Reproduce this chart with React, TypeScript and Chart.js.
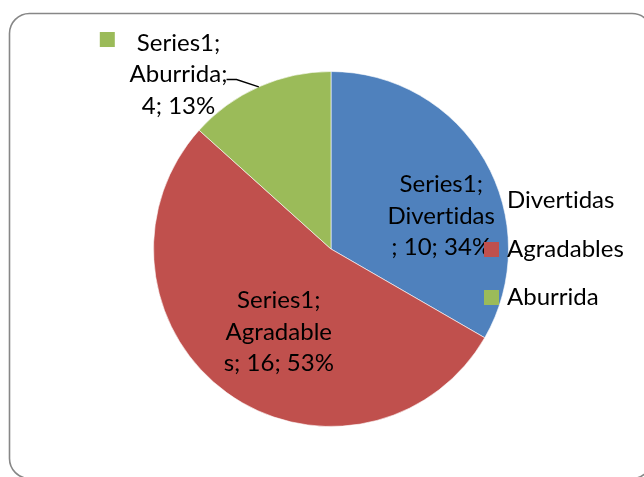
import React, { useEffect, useRef } from "react";
import { Chart, registerables } from "chart.js";

Chart.register(...registerables);

const SERIES_NAME = "Series1";
const categories = ["Divertidas", "Agradables", "Aburrida"];
const values = [10, 16, 4];
const percentLabels = ["34%", "53%", "13%"];
const colors = ["#4F81BD", "#C0504D", "#9BBB59"];

const FONT = "24px Lato, Calibri, 'Noto Sans', sans-serif";

// Wrapped data-label text, as Excel wrapped it
const labelLines: string[][] = [
  [`${SERIES_NAME};`, categories[0], `; ${values[0]}; ${percentLabels[0]}`],
  [
    `${SERIES_NAME};`,
    categories[1].slice(0, -1),
    `${categories[1].slice(-1)}; ${values[1]}; ${percentLabels[1]}`,
  ],
  [`${SERIES_NAME};`, `${categories[2]};`, `${values[2]}; ${percentLabels[2]}`],
];

// label centre offsets relative to pie centre, in units of outer radius
const labelPlacement = [
  { dx: 0.621, dy: -0.186 },
  { dx: -0.294, dy: 0.469 },
  { dx: -0.859, dy: -0.983 },
];
const LINE_H = 31.5;

function setFont(ctx: any) {
  ctx.font = FONT;
  try {
    ctx.letterSpacing = "0.01px";
  } catch (e) {}
}

const framePlugin = {
  id: "frame",
  beforeDraw(chart: any) {
    const ctx = chart.ctx;
    ctx.save();
    ctx.fillStyle = "#ffffff";
    ctx.fillRect(0, 0, chart.width, chart.height);
    const x = 9.5,
      y = 13.5,
      w = 644 - 9.5 + 8,
      h = 477 - 13.5 + 1.5,
      r = 20;
    ctx.beginPath();
    ctx.moveTo(x + r, y);
    ctx.lineTo(x + w - r, y);
    ctx.arcTo(x + w, y, x + w, y + r, r);
    ctx.lineTo(x + w, y + h - r);
    ctx.arcTo(x + w, y + h, x + w - r, y + h, r);
    ctx.lineTo(x + r, y + h);
    ctx.arcTo(x, y + h, x, y + h - r, r);
    ctx.lineTo(x, y + r);
    ctx.arcTo(x, y, x + r, y, r);
    ctx.closePath();
    ctx.strokeStyle = "#878787";
    ctx.lineWidth = 1.6;
    ctx.stroke();
    ctx.restore();
  },
};

const labelsPlugin = {
  id: "pieLabels",
  afterDatasetsDraw(chart: any) {
    const ctx = chart.ctx;
    const meta = chart.getDatasetMeta(0);
    ctx.save();
    setFont(ctx);
    ctx.fillStyle = "#000";
    ctx.textAlign = "center";
    ctx.textBaseline = "middle";
    meta.data.forEach((arc: any, i: number) => {
      const { x, y, outerRadius, startAngle, endAngle } = arc.getProps(
        ["x", "y", "outerRadius", "startAngle", "endAngle"],
        true
      );
      const p = labelPlacement[i];
      const cx = x + p.dx * outerRadius;
      const cy = y + p.dy * outerRadius;
      const lines = labelLines[i];
      const top = cy - ((lines.length - 1) * LINE_H) / 2;
      lines.forEach((ln, k) => {
        ctx.fillText(ln, cx, top + k * LINE_H);
      });
      if (i === 2) {
        // legend key for outside label
        const w0 = ctx.measureText(lines[0]).width;
        const left0 = cx - w0 / 2;
        ctx.fillStyle = colors[i];
        ctx.fillRect(left0 - 37, top - 11, 15, 15);
        ctx.fillStyle = "#000";
        // leader line
        const w1 = ctx.measureText(lines[1]).width;
        const sx = cx + w1 / 2 - 1;
        const sy = top + LINE_H + 5;
        const mid = (startAngle + endAngle) / 2;
        const ex = x + Math.cos(mid) * outerRadius;
        const ey = y + Math.sin(mid) * outerRadius;
        ctx.beginPath();
        ctx.moveTo(sx, sy);
        ctx.lineTo(sx + 10, sy);
        ctx.lineTo(ex, ey);
        ctx.strokeStyle = "#000";
        ctx.lineWidth = 1.3;
        ctx.stroke();
      }
    });
    ctx.restore();
  },
  afterDraw(chart: any) {
    // legend
    const ctx = chart.ctx;
    ctx.save();
    setFont(ctx);
    ctx.textAlign = "left";
    ctx.textBaseline = "middle";
    const lx = 484;
    const ys = [200, 249, 297];
    categories.forEach((c, i) => {
      ctx.fillStyle = colors[i];
      ctx.fillRect(lx, ys[i] - 7, 15, 15);
      ctx.fillStyle = "#000";
      ctx.fillText(c, lx + 23, ys[i]);
    });
    ctx.restore();
  },
};

export default function App() {
  const ref = useRef<HTMLCanvasElement | null>(null);
  useEffect(() => {
    if (!ref.current) return;
    const chart = new Chart(ref.current, {
      type: "pie",
      data: {
        labels: categories,
        datasets: [
          {
            label: SERIES_NAME,
            data: values,
            backgroundColor: colors,
            borderColor: "rgba(255,255,255,0.6)",
            borderWidth: 1,
          },
        ],
      },
      options: {
        responsive: false,
        animation: false,
        devicePixelRatio: 1,
        layout: { padding: { top: 71, bottom: 50, left: 153, right: 135 } },
        plugins: {
          legend: { display: false },
          tooltip: { enabled: false },
        },
      },
      plugins: [framePlugin, labelsPlugin],
    });
    return () => chart.destroy();
  }, []);
  return (
    <div style={{ position: "absolute", left: 0, top: 0, width: 644, height: 477 }}>
      <canvas ref={ref} width={644} height={477} />
    </div>
  );
}
